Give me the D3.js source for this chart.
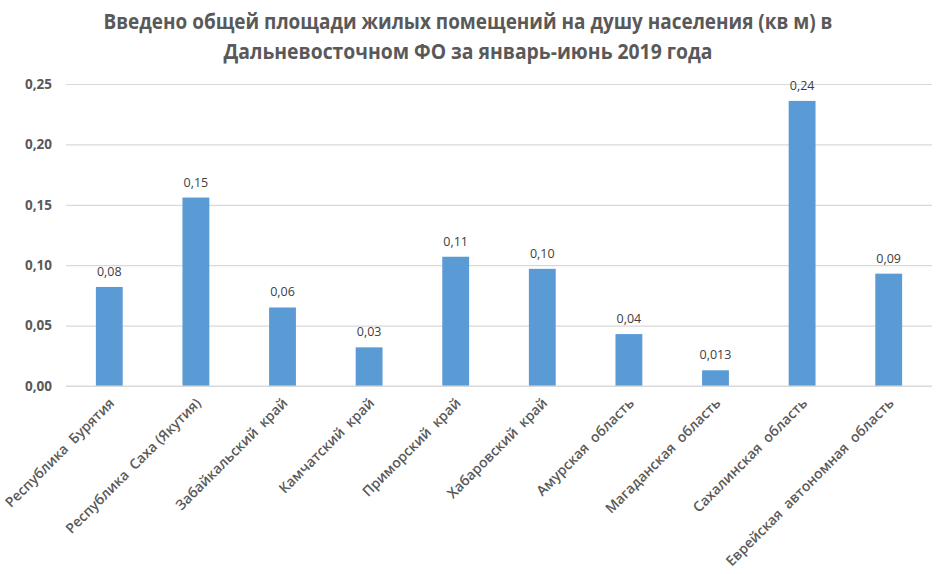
<!DOCTYPE html>
<html><head><meta charset="utf-8">
<script src="https://cdn.jsdelivr.net/npm/d3@7"></script>
<style>body{margin:0;background:#fff}svg{display:block}</style>
</head><body>
<script>
const categories = ["Республика  Бурятия","Республика  Саха (Якутия)","Забайкальский  край","Камчатский  край","Приморский  край","Хабаровский  край","Амурская  область","Магаданская  область","Сахалинская  область","Еврейская  автономная  область"];
const values = [0.082, 0.156, 0.065, 0.032, 0.107, 0.097, 0.043, 0.013, 0.236, 0.093];
const valueLabels = ["0,08","0,15","0,06","0,03","0,11","0,10","0,04","0,013","0,24","0,09"];
const yTicks = [0, 0.05, 0.10, 0.15, 0.20, 0.25];
const titleLines = ["Введено общей площади жилых помещений на душу населения (кв м) в","Дальневосточном ФО за январь-июнь 2019 года"];

const W = 943, H = 574;
const svg = d3.select("body").append("svg").attr("width", W).attr("height", H);
const x = d3.scaleBand().domain(categories).range([66, 932]).paddingInner(0.69).paddingOuter(0.345);
const y = d3.scaleLinear().domain([0, 0.25]).range([386, 84]);

svg.append("g").selectAll("text").data(titleLines).join("text")
  .attr("x", 468).attr("y", (d,i)=> 29 + i*30)
  .attr("text-anchor","middle").attr("font-family","Open Sans, sans-serif").attr("font-weight","bold")
  .attr("font-size", 21).attr("fill","#595959")
  .attr("textLength", (d,i)=> i===0 ? 729 : 489).attr("lengthAdjust","spacingAndGlyphs")
  .text(d=>d);

const yAxis = d3.axisLeft(y).tickValues(yTicks).tickSize(-(932-66)).tickFormat(d=> d3.format(".2f")(d).replace(".", ","));
const gy = svg.append("g").attr("transform","translate(66,0)").call(yAxis);
gy.select(".domain").remove();
gy.selectAll(".tick line").attr("stroke","#d9d9d9").attr("stroke-width",1.2);
gy.selectAll(".tick text").attr("x",-14).attr("font-family","Open Sans, sans-serif").attr("font-weight","bold")
  .attr("font-size",13.5).attr("fill","#595959");

svg.append("g").selectAll("rect").data(values).join("rect")
  .attr("x",(d,i)=>x(categories[i])).attr("width",x.bandwidth())
  .attr("y",d=>y(d)).attr("height",d=>y(0)-y(d)).attr("fill","#5b9bd5");

svg.append("g").selectAll("text").data(values).join("text")
  .attr("x",(d,i)=>x(categories[i])+x.bandwidth()/2).attr("y",d=>y(d)-11)
  .attr("text-anchor","middle").attr("font-family","Open Sans, sans-serif").attr("font-size",12.5).attr("fill","#404040")
  .text((d,i)=>valueLabels[i]);

const xAxis = d3.axisBottom(x).tickSize(0);
const gx = svg.append("g").attr("transform","translate(0,386)").call(xAxis);
gx.select(".domain").attr("stroke","#d9d9d9").attr("stroke-width",1.2).attr("d","M66,0H932");
gx.selectAll(".tick text").attr("text-anchor","end").attr("dy",0).attr("y",0)
  .attr("transform","translate(6,18) rotate(-45)")
  .attr("font-family","Open Sans, sans-serif").attr("font-size",14).attr("font-weight",600).attr("fill","#595959")
  .style("white-space","pre");
</script>
</body></html>
